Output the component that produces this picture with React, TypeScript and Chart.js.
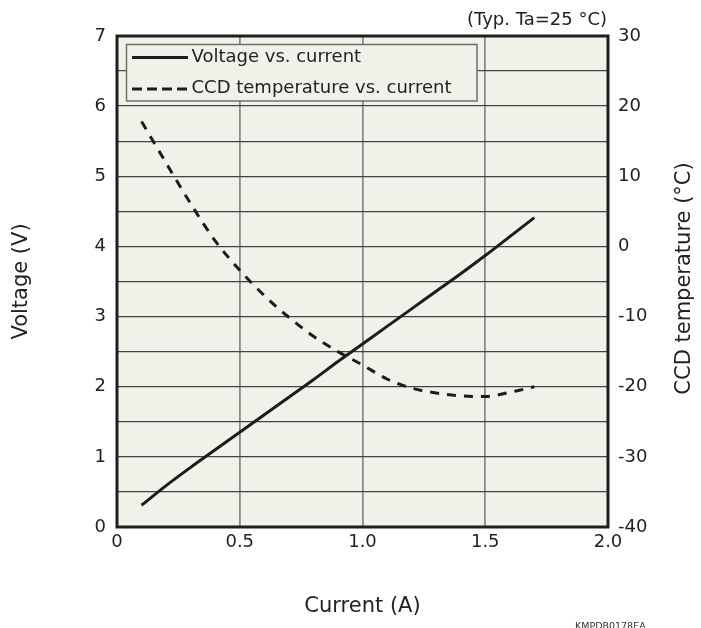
import React, { useEffect, useRef } from 'react';
import { Chart, registerables } from 'chart.js';

Chart.register(...registerables);

// ---- data ----
const currentA = [0.1, 0.2, 0.3, 0.4, 0.5, 0.6, 0.7, 0.8, 0.9, 1.0, 1.1, 1.2, 1.3, 1.4, 1.5, 1.6, 1.7];
const voltageV = [0.31, 0.59, 0.85, 1.1, 1.35, 1.6, 1.85, 2.1, 2.36, 2.61, 2.86, 3.11, 3.36, 3.61, 3.87, 4.14, 4.41];
const ccdTempC = [17.8, 11.9, 6.1, 0.8, -3.4, -7.0, -10.1, -12.8, -15.0, -16.9, -18.9, -20.2, -20.9, -21.3, -21.4, -20.8, -20.0];

const xTickLabels = ['0', '0.5', '1.0', '1.5', '2.0'];
const yTickLabels = ['0', '1', '2', '3', '4', '5', '6', '7'];
const y1TickLabels = ['-40', '-30', '-20', '-10', '0', '10', '20', '30'];
const legendLabels = ['Voltage vs. current', 'CCD temperature vs. current'];
const xTitle = 'Current (A)';
const yTitle = 'Voltage (V)';
const y1Title = 'CCD temperature (°C)';
const noteText = '(Typ. Ta=25 °C)';
const codeText = 'KMPDB0178EA';

const FONT = "'DejaVu Sans', Verdana, sans-serif";
const BG = '#F1F0E9';
const INK = '#222222';
const LINE = '#1c1c1c';

const decorPlugin = {
  id: 'decor',
  beforeDraw(chart: any) {
    const { ctx, chartArea } = chart;
    const { left, top, right, bottom } = chartArea;
    ctx.save();
    ctx.fillStyle = BG;
    ctx.fillRect(left, top, right - left, bottom - top);
    ctx.restore();
  },
  afterDraw(chart: any) {
    const { ctx, chartArea, width } = chart;
    const { left, top, right, bottom } = chartArea;
    ctx.save();
    // frame
    ctx.strokeStyle = '#1e1e1e';
    ctx.lineWidth = 3;
    ctx.strokeRect(left, top, right - left, bottom - top);

    // legend box
    const bx = left + 9.5;
    const by = top + 8.5;
    const bw = 350.5;
    const bh = 56.5;
    ctx.fillStyle = BG;
    ctx.fillRect(bx, by, bw, bh);
    ctx.strokeStyle = '#6f6f6f';
    ctx.lineWidth = 1.5;
    ctx.strokeRect(bx, by, bw, bh);

    const lx0 = bx + 5.5;
    const lx1 = bx + 61.5;
    const rows = [by + 13, by + 44.5];
    ctx.strokeStyle = LINE;
    ctx.lineWidth = 3;
    ctx.setLineDash([]);
    ctx.beginPath();
    ctx.moveTo(lx0, rows[0]);
    ctx.lineTo(lx1, rows[0]);
    ctx.stroke();
    ctx.setLineDash([10, 5]);
    ctx.beginPath();
    ctx.moveTo(lx0, rows[1]);
    ctx.lineTo(lx1, rows[1]);
    ctx.stroke();
    ctx.setLineDash([]);

    ctx.fillStyle = INK;
    ctx.font = `18px ${FONT}`;
    ctx.textAlign = 'left';
    ctx.textBaseline = 'middle';
    ctx.fillText(legendLabels[0], lx1 + 3.5, rows[0]);
    ctx.fillText(legendLabels[1], lx1 + 3.5, rows[1] - 1);

    // note top right
    ctx.textAlign = 'right';
    ctx.fillText(noteText, right - 1, 20);

    // right axis title, rotated like the left one
    ctx.save();
    ctx.font = `21px ${FONT}`;
    ctx.textAlign = 'center';
    ctx.textBaseline = 'middle';
    ctx.translate(width - 16, (top + bottom) / 2 - 3);
    ctx.rotate(-Math.PI / 2);
    ctx.fillText(y1Title, 0, 0);
    ctx.restore();

    // figure code
    ctx.fillStyle = '#333333';
    ctx.font = `9.5px ${FONT}`;
    ctx.textAlign = 'left';
    ctx.textBaseline = 'alphabetic';
    ctx.fillText(codeText, 575, 629);
    ctx.restore();
  },
};

export default function App() {
  const canvasRef = useRef<HTMLCanvasElement | null>(null);

  useEffect(() => {
    document.body.style.margin = '0';
    const canvas = canvasRef.current;
    if (!canvas) return;

    const chart = new Chart(canvas, {
      type: 'line',
      data: {
        datasets: [
          {
            label: legendLabels[0],
            data: currentA.map((x, i) => ({ x, y: voltageV[i] })),
            yAxisID: 'y',
            borderColor: LINE,
            borderWidth: 3,
            pointRadius: 0,
            tension: 0.3,
            fill: false,
          },
          {
            label: legendLabels[1],
            data: currentA.map((x, i) => ({ x, y: ccdTempC[i] })),
            yAxisID: 'y1',
            borderColor: LINE,
            borderWidth: 3,
            borderDash: [9, 8],
            pointRadius: 0,
            tension: 0.4,
            cubicInterpolationMode: 'monotone',
            fill: false,
          },
        ],
      },
      options: {
        animation: false,
        responsive: true,
        maintainAspectRatio: false,
        layout: { padding: { top: 36, left: 0, right: 0, bottom: 0 } },
        plugins: {
          legend: { display: false },
          tooltip: { enabled: false },
          title: { display: false },
        },
        scales: {
          x: {
            type: 'linear',
            min: 0,
            max: 2,
            afterFit: (s: any) => {
              s.height = 101;
            },
            ticks: {
              stepSize: 0.5,
              padding: 5,
              color: INK,
              font: { family: FONT, size: 18 },
              maxRotation: 0,
              callback: (v: any) => {
                const i = Math.round(Number(v) / 0.5);
                return Math.abs(Number(v) - i * 0.5) < 1e-6 ? xTickLabels[i] : '';
              },
            },
            grid: { color: '#8a8a8a', lineWidth: 1.8, drawTicks: false },
            border: { display: false },
            title: {
              display: true,
              text: xTitle,
              color: INK,
              font: { family: FONT, size: 21 },
              padding: { top: 0, bottom: 9 },
            },
          },
          y: {
            type: 'linear',
            position: 'left',
            min: 0,
            max: 7,
            afterFit: (s: any) => {
              s.width = 117;
            },
            ticks: {
              stepSize: 0.5,
              padding: 11,
              color: INK,
              font: { family: FONT, size: 18 },
              autoSkip: false,
              callback: (v: any) => {
                const n = Number(v);
                return Number.isInteger(n) ? yTickLabels[n] : '';
              },
            },
            grid: { color: '#444444', lineWidth: 1.3, drawTicks: false },
            border: { display: false },
            title: {
              display: true,
              text: yTitle,
              color: INK,
              font: { family: FONT, size: 21 },
              padding: { top: 9, bottom: 0 },
            },
          },
          y1: {
            type: 'linear',
            position: 'right',
            min: -40,
            max: 30,
            afterFit: (s: any) => {
              s.width = 93;
            },
            ticks: {
              stepSize: 10,
              padding: 10,
              color: INK,
              font: { family: FONT, size: 18 },
              callback: (v: any) => {
                const i = Math.round((Number(v) + 40) / 10);
                return y1TickLabels[i] ?? '';
              },
            },
            grid: { display: false, drawTicks: false },
            border: { display: false },
          },
        },
      },
      plugins: [decorPlugin],
    } as any);

    return () => {
      chart.destroy();
    };
  }, []);

  return (
    <div style={{ position: 'absolute', left: 0, top: 0, width: '701px', height: '628px', background: '#ffffff' }}>
      <canvas ref={canvasRef} />
    </div>
  );
}
